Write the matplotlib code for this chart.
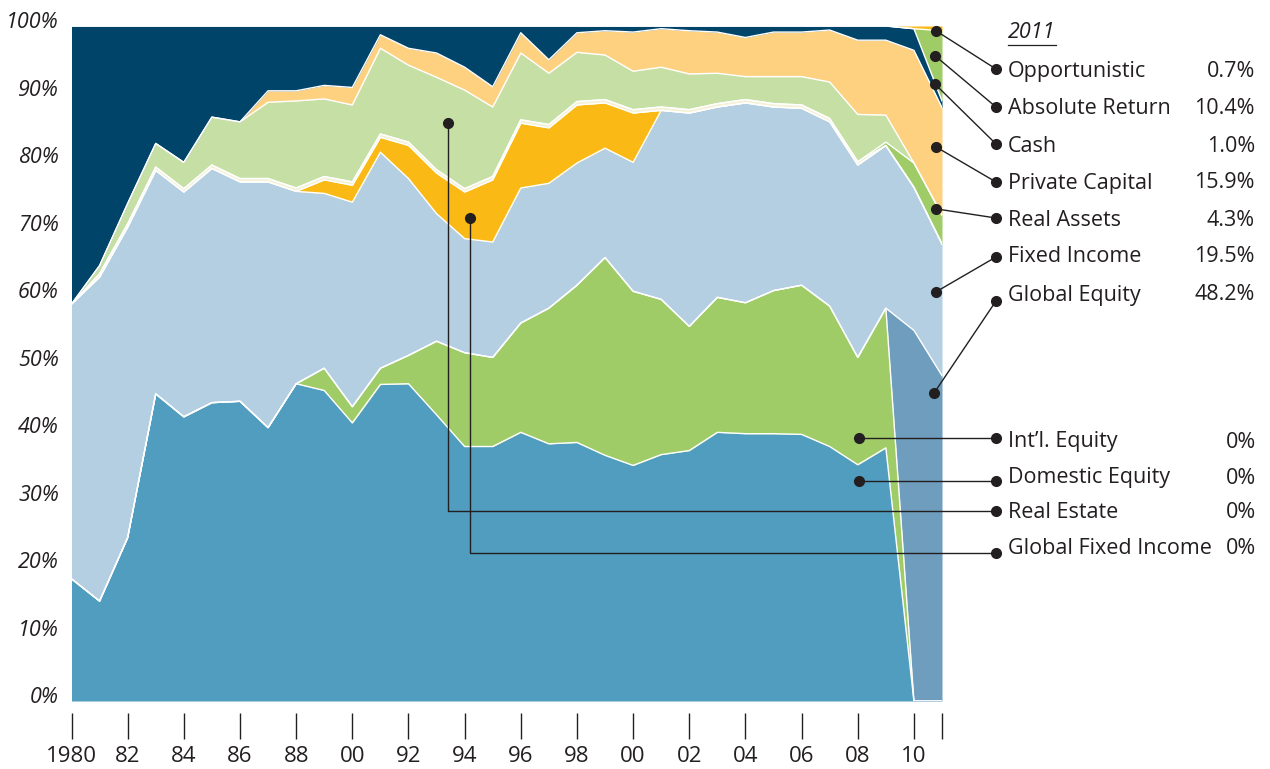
import numpy as np
import matplotlib
matplotlib.use("Agg")
import matplotlib.pyplot as plt
from matplotlib.transforms import ScaledTranslation

plt.rcParams['font.family'] = ['Open Sans', 'DejaVu Sans']

years = np.arange(1980, 2012)

# asset allocation, percent of portfolio
domestic = [18.1, 14.8, 24.2, 45.5, 42.1, 44.2, 44.4, 40.5, 47.0, 46.0,
            41.2, 46.9, 47.0, 42.4, 37.7, 37.7, 39.8, 38.1, 38.3, 36.4,
            34.9, 36.5, 37.1, 39.8, 39.6, 39.6, 39.5, 37.7, 35.0, 37.5, 0.0, 0.0]
intl = [0, 0, 0, 0, 0, 0, 0, 0, 0, 3.3,
        2.4, 2.4, 4.2, 10.9, 13.9, 13.2, 16.2, 20.1, 23.3, 29.3,
        25.8, 23.0, 18.4, 20.0, 19.4, 21.2, 22.1, 20.8, 15.9, 20.7, 0.0, 0.0]
global_eq = [0] * 30 + [54.9, 48.2]
fixed = [40.7, 48.0, 46.0, 33.1, 33.3, 34.7, 32.5, 36.4, 28.5, 25.9,
         30.3, 32.0, 26.2, 18.9, 16.9, 17.1, 20.0, 18.5, 18.1, 16.2,
         19.1, 28.0, 31.6, 28.2, 29.6, 27.2, 26.2, 27.3, 28.5, 24.1, 21.2, 19.5]
global_fi = [0, 0, 0, 0, 0, 0, 0, 0, 0, 2.0,
             2.5, 2.2, 4.9, 6.0, 6.9, 9.2, 9.6, 8.2, 8.6, 6.7,
             7.3, 0, 0, 0, 0, 0, 0, 0, 0, 0, 0, 0]
other = [0] + [0.5] * 28 + [0, 0, 0]
real_assets = [0] * 29 + [0.5, 3.6, 4.3]
real_estate = [0.0, 1.2, 3.0, 3.5, 3.9, 7.1, 8.4, 11.3, 12.9, 11.5,
               11.4, 12.7, 11.4, 13.7, 14.6, 10.3, 9.9, 7.6, 7.3, 6.6,
               5.7, 5.9, 5.3, 4.5, 3.4, 4.0, 4.2, 5.4, 7.0, 4.0, 0.0, 0.0]
private_cap = [0, 0, 0, 0, 0, 0, 0, 1.7, 1.5, 2.0,
               2.6, 2.0, 2.5, 3.6, 3.4, 3.0, 3.0, 2.0, 2.9, 3.6,
               5.8, 5.7, 6.4, 6.1, 5.8, 6.6, 6.6, 7.7, 11.0, 11.1, 16.7, 15.9]
cash = [41.2, 35.5, 26.3, 17.4, 20.2, 13.5, 14.2, 9.6, 9.6, 8.8,
        9.1, 1.3, 3.3, 4.0, 6.1, 9.0, 1.0, 5.0, 1.0, 0.7,
        0.9, 0.4, 0.7, 0.9, 1.7, 0.9, 0.9, 0.6, 2.1, 2.1, 3.2, 1.0]
absolute = [0] * 30 + [0.0, 10.4]
opportunistic = [0] * 30 + [0.4, 0.7]

tick_years = list(range(1980, 2011, 2)) + [2011]
tick_labels = ['1980', '82', '84', '86', '88', '00', '92', '94', '96', '98',
               '00', '02', '04', '06', '08', '10', '']

upper_names = ['Opportunistic', 'Absolute Return', 'Cash', 'Private Capital',
               'Real Assets', 'Fixed Income', 'Global Equity']
upper_vals = ['0.7%', '10.4%', '1.0%', '15.9%', '4.3%', '19.5%', '48.2%']
lower_names = ["Int\u2019l. Equity", 'Domestic Equity', 'Real Estate', 'Global Fixed Income']
lower_vals = ['0%', '0%', '0%', '0%']

# where each leader line touches the chart (year, percent)
upper_anchor = [(2010.78, 99.3), (2010.75, 95.6), (2010.75, 91.4), (2010.78, 82.1),
                (2010.8, 72.9), (2010.78, 60.6), (2010.73, 45.7)]
lower_anchor = [(2008.04, 38.9), (2008.04, 32.6), (1993.42, 85.7), (1994.19, 71.5)]

layers = [domestic, intl, global_eq, fixed, global_fi, other, real_assets,
          real_estate, private_cap, cash, absolute, opportunistic]
colors = ['#509dbf', '#9fcc66', '#6f9dbd', '#b3cfe1', '#fbb915', '#f4f1d4',
          '#9fcc66', '#c6dfa5', '#fdd17f', '#00446a', '#9fcc66', '#fbb915']

W, H = 1270, 769
fig = plt.figure(figsize=(W / 100, H / 100), dpi=100)
ax = fig.add_axes([71.5 / W, (H - 701) / H, (942 - 71.5) / W, (701 - 26) / H])

base = np.zeros(len(years))
tops = []
for vals, c in zip(layers, colors):
    top = base + np.array(vals, dtype=float)
    ax.fill_between(years, base, top, color=c, lw=0)
    tops.append(top)
    base = top
for top in tops[:-1]:
    ax.plot(years, top, color='white', lw=1.0)

dark = '#231f20'
ax.set_xlim(1980, 2011)
ax.set_ylim(0, 100)
for s in ax.spines.values():
    s.set_visible(False)
ax.spines['bottom'].set_position(('outward', 8.6))
ax.set_xticks(tick_years)
ax.set_xticklabels(tick_labels, fontsize=16, color=dark)
ax.tick_params(axis='x', length=19, width=1.0, color=dark, pad=5)
ax.set_yticks(range(0, 101, 10))
ax.set_yticklabels([f'{v}%' for v in range(0, 101, 10)], fontsize=15.5,
                   style='italic', color=dark)
ax.tick_params(axis='y', length=0, pad=9)
for lab in ax.get_yticklabels():
    lab.set_transform(lab.get_transform() + ScaledTranslation(0, 4 / 72, fig.dpi_scale_trans))

# overlay in pixel coordinates for the call-outs
ov = fig.add_axes([0, 0, 1, 1], facecolor='none')
ov.set_xlim(0, W)
ov.set_ylim(H, 0)
ov.axis('off')
fig.canvas.draw()


def to_px(pt):
    return ov.transData.inverted().transform(ax.transData.transform(pt))


fs = 15.5
ov.text(1008, 32, '2011', fontsize=fs, style='italic', color=dark, va='center')
ov.plot([1008, 1056], [45, 45], color=dark, lw=0.9)

label_x, dot_x, val_x = 1008, 996, 1255
upper_y = [71.7, 109, 146, 183, 220, 257, 295]
upper_dot = [69, 107, 144, 182, 218, 257, 301]
for name, val, y, dy, anc in zip(upper_names, upper_vals, upper_y, upper_dot, upper_anchor):
    ov.text(label_x, y, name, fontsize=fs, color=dark, va='center')
    ov.text(val_x, y, val, fontsize=fs, color=dark, va='center', ha='right')
    px, py = to_px(anc)
    ov.plot([px, dot_x], [py, dy], color=dark, lw=1.0)
    ov.plot([px, dot_x], [py, dy], 'o', color=dark, ms=7)

lower_y = [442, 478, 513, 549]
lower_line = [None, None, 510.7, 553]
for name, val, y, ly, anc in zip(lower_names, lower_vals, lower_y, lower_line, lower_anchor):
    ov.text(label_x, y, name, fontsize=fs, color=dark, va='center')
    ov.text(val_x + 1, y, val, fontsize=fs, color=dark, va='center', ha='right')
    px, py = to_px(anc)
    if ly is None:
        xs, ys = [px, dot_x], [py, py]
    else:
        xs, ys = [px, px, dot_x], [py, ly, ly]
    ov.plot(xs, ys, color=dark, lw=1.0)
    ov.plot([xs[0], xs[-1]], [ys[0], ys[-1]], 'o', color=dark, ms=7)

fig.savefig('out.png', dpi=100)
